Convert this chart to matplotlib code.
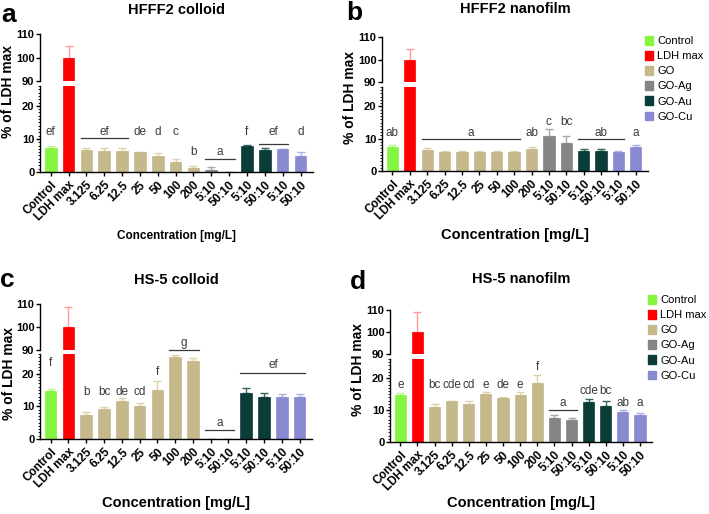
import matplotlib
matplotlib.use("Agg")
import matplotlib.pyplot as plt
from matplotlib.patches import Patch
from matplotlib.ticker import MultipleLocator
import numpy as np

plt.rcParams['font.family'] = ['Liberation Sans', 'DejaVu Sans']

W, H = 709, 514

labels = ['Control', 'LDH max', '3.125', '6.25', '12.5', '25', '50', '100', '200',
          '5:10', '50:10', '5:10', '50:10', '5:10', '50:10']
groups = ['Control', 'LDH max', 'GO', 'GO-Ag', 'GO-Au', 'GO-Cu']
group_of_bar = [0, 1, 2, 2, 2, 2, 2, 2, 2, 3, 3, 4, 4, 5, 5]
colors = ['#86f53f', '#ff0000', '#c5b88a', '#858585', '#0b3d38', '#8a8ad2']
err_colors = ['#b4f890', '#ff9a9a', '#dcd2b0', '#a8a8a8', '#3a625e', '#b0b0e6']

# mean and upper error (SD) per panel
a_mean = [7.2, 100, 6.7, 6.4, 6.4, 6.0, 4.7, 3.0, 1.2, 0.7, 0.0, 8.0, 6.5, 7.0, 4.7]
a_err = [0.7, 4.7, 0.7, 0.8, 0.8, 0.1, 1.0, 0.9, 0.6, 0.7, 0.0, 0.1, 0.8, 0.1, 1.3]
b_mean = [7.3, 100, 6.5, 6.0, 6.0, 6.0, 6.0, 6.0, 6.9, 10.8, 8.75, 6.25, 6.25, 6.0, 7.5]
b_err = [0.6, 4.7, 0.7, 0.1, 0.1, 0.1, 0.1, 0.1, 0.6, 2.1, 2.05, 0.65, 0.65, 0.1, 0.7]
c_mean = [14.6, 100, 7.45, 9.2, 11.7, 10.0, 15.0, 25.0, 23.8, 0.0, 0.0, 14.0, 13.0, 12.75, 12.75]
c_err = [0.8, 8.6, 0.75, 0.6, 0.7, 0.9, 2.8, 0.6, 1.0, 0.0, 0.0, 1.5, 1.0, 1.05, 1.05]
d_mean = [14.6, 100, 11.1, 12.9, 11.9, 14.9, 13.9, 14.6, 18.6, 7.4, 6.9, 12.5, 11.2, 9.3, 8.35]
d_err = [0.6, 8.9, 0.8, 0.1, 0.9, 0.9, 0.1, 1.1, 2.5, 1.2, 0.5, 1.0, 1.6, 0.7, 0.75]

# significance letters: (first bar, last bar, text, text y, line y)
a_sig = [(0, 0, 'ef', 12.2, None), (2, 4, 'ef', 12.2, 10.2), (5, 5, 'de', 12.2, None),
         (6, 6, 'd', 12.2, None), (7, 7, 'c', 12.2, None), (8, 8, 'b', 5.9, None),
         (9, 10, 'a', 5.9, 3.9), (11, 11, 'f', 12.2, None), (12, 13, 'ef', 12.2, 8.5),
         (14, 14, 'd', 12.2, None)]
b_sig = [(0, 0, 'ab', 11.8, None), (2, 7, 'a', 11.8, 10.0), (8, 8, 'ab', 11.8, None),
         (9, 9, 'c', 15.1, None), (10, 10, 'bc', 15.1, None), (11, 13, 'ab', 11.8, 10.0),
         (14, 14, 'a', 11.8, None)]
c_sig = [(0, 0, 'f', 23.1, None), (2, 2, 'b', 14.5, None), (3, 3, 'bc', 14.5, None),
         (4, 4, 'de', 14.5, None), (5, 5, 'cd', 14.5, None), (6, 6, 'f', 20.5, None),
         (7, 8, 'g', 29.4, 27.3), (9, 10, 'a', 4.8, 2.7), (11, 14, 'ef', 22.5, 20.3)]
d_sig = [(0, 0, 'e', 17.9, None), (2, 2, 'bc', 17.7, None), (3, 3, 'cde', 17.7, None),
         (4, 4, 'cd', 17.7, None), (5, 5, 'e', 17.7, None), (6, 6, 'de', 17.7, None),
         (7, 7, 'e', 17.7, None), (8, 8, 'f', 23.6, None), (9, 10, 'a', 12.1, 10.0),
         (11, 11, 'cde', 15.9, None), (12, 12, 'bc', 15.9, None), (13, 13, 'ab', 12.3, None),
         (14, 14, 'a', 12.3, None)]


def rect(x0, x1, ytop, ybot):
    return [x0 / W, 1 - ybot / H, (x1 - x0) / W, (ybot - ytop) / H]


fig = plt.figure(figsize=(W / 100, H / 100), dpi=100)

x = np.arange(len(labels))
bw = 0.65
bar_cols = [colors[g] for g in group_of_bar]
err_cols = [err_colors[g] for g in group_of_bar]


def panel(xs, up, lo, mean, err, sig, letter, title, lx, ly_pos, xl_size):
    x0, x1 = xs
    axu = fig.add_axes(rect(x0, x1, up[0], up[1]))
    axl = fig.add_axes(rect(x0, x1, lo[0], lo[1]))
    for ax in (axu, axl):
        ax.patch.set_visible(False)
        for i in range(len(x)):
            ax.errorbar(x[i], mean[i], yerr=[[0], [err[i]]], fmt='none',
                        ecolor=err_cols[i], elinewidth=1.0, capsize=3, capthick=1.0, zorder=1)
        ax.bar(x, mean, width=bw, color=bar_cols, edgecolor=bar_cols, linewidth=0.5, zorder=2)
        ax.set_xlim(-0.6, 14.7)
        ax.spines['top'].set_visible(False)
        ax.spines['right'].set_visible(False)
        ax.spines['left'].set_linewidth(1.0)
        ax.spines['bottom'].set_linewidth(1.0)
        ax.tick_params(axis='y', length=3, width=1.0, pad=1, labelsize=8)
    axu.set_ylim(90, 110)
    axu.set_yticks([90, 100, 110])
    axu.spines['bottom'].set_visible(False)
    axu.set_xticks([])
    axl.set_ylim(0, 26)
    axl.set_yticks([0, 10, 20])
    axl.yaxis.set_minor_locator(MultipleLocator(1))
    axl.tick_params(axis='y', which='minor', length=1.5, width=0.6)
    axl.set_xticks(x)
    axl.set_xticklabels(labels, rotation=45, ha='right', rotation_mode='anchor',
                        fontsize=8.5, fontweight='bold')
    axl.tick_params(axis='x', length=3, width=1.0, pad=2)
    for t in axu.get_yticklabels() + axl.get_yticklabels():
        t.set_fontweight('bold')

    for s0, s1, txt, ty, lyv in sig:
        xc = (s0 + s1) / 2
        axl.text(xc, ty, txt, ha='center', va='center', fontsize=8.5,
                 color='#3a3a3a', clip_on=False)
        if lyv is not None:
            axl.plot([s0 - bw / 2, s1 + bw / 2], [lyv, lyv], color='#3a3a3a',
                     lw=0.9, clip_on=False)

    fig.text(letter[1] / W, 1 - letter[2] / H, letter[0], fontsize=19,
             fontweight='bold', ha='left', va='center')
    fig.text(title[1] / W, 1 - title[2] / H, title[0], fontsize=10.5,
             fontweight='bold', ha='center', va='center')
    fig.text(ly_pos[0] / W, 1 - ly_pos[1] / H, '% of LDH max', fontsize=10,
             fontweight='bold', rotation=90, ha='center', va='center')
    fig.text(lx[0] / W, 1 - lx[1] / H, 'Concentration [mg/L]', fontsize=xl_size,
             fontweight='bold', ha='center', va='center')


panel((40, 313), (34, 81), (86, 172), a_mean, a_err, a_sig, ('a', 1, 15),
      ('HFFF2 colloid', 176, 10), (176, 236), (8, 92), 8.5)
panel((382, 648), (37, 82), (87, 171), b_mean, b_err, b_sig, ('b', 346, 13),
      ('HFFF2 nanofilm', 515, 9), (515, 235), (350, 98), 10.5)
panel((40, 312), (304, 350), (354, 439), c_mean, c_err, c_sig, ('c', 0, 280),
      ('HS-5 colloid', 176, 280), (176, 503), (9, 373), 10.5)
panel((390, 652), (310, 354), (359, 442), d_mean, d_err, d_sig, ('d', 350, 282),
      ('HS-5 nanofilm', 521, 279), (521, 503), (358, 370), 10.5)

handles = [Patch(facecolor=colors[i], edgecolor=colors[i]) for i in range(len(groups))]
for lx0, ly0 in [(645, 36), (648, 295)]:
    fig.legend(handles, groups, loc='upper left', bbox_to_anchor=(lx0 / W, 1 - ly0 / H),
               frameon=False, fontsize=8, handlelength=0.7, handleheight=0.8,
               handletextpad=0.4, labelspacing=0.45, borderpad=0, borderaxespad=0)

fig.savefig('out.png', dpi=100)
